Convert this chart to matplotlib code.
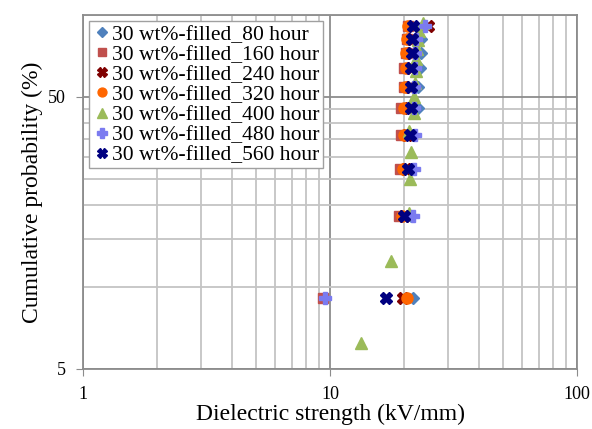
import numpy as np
from matplotlib import pyplot as plt
from matplotlib.ticker import FixedLocator, NullFormatter

plt.rcParams['font.family'] = ['Liberation Serif', 'DejaVu Serif']

# cumulative probability (%) - 10 samples: i/11, 400 hour set: 15 samples, i/16
prob10 = [100.0 * i / 11 for i in range(1, 11)]
prob15 = [100.0 * i / 16 for i in range(1, 16)]

h80 = [21.7, 21.2, 21.5, 21.7, 22.7, 22.7, 23.1, 23.3, 23.3, 23.8]
h160 = [9.4, 19.0, 19.1, 19.4, 19.4, 19.9, 20.0, 20.2, 20.4, 20.6]
h240 = [19.8, 19.9, 20.3, 20.5, 20.8, 21.0, 21.2, 21.3, 21.4, 24.8]
h320 = [20.4, 19.6, 19.8, 19.9, 20.0, 20.1, 20.2, 20.3, 20.4, 20.6]
h400 = [13.3, 17.6, 20.9, 21.0, 21.3, 20.9, 21.8, 21.9, 22.0, 22.2,
        22.2, 22.4, 22.6, 22.9, 23.7]
h480 = [9.5, 21.7, 21.9, 22.0, 21.8, 21.9, 22.0, 22.1, 22.2, 24.2]
h560 = [16.9, 19.9, 20.7, 21.0, 21.2, 21.3, 21.3, 21.5, 21.5, 21.7]

labels = ['30 wt%-filled_80 hour', '30 wt%-filled_160 hour',
          '30 wt%-filled_240 hour', '30 wt%-filled_320 hour',
          '30 wt%-filled_400 hour', '30 wt%-filled_480 hour',
          '30 wt%-filled_560 hour']

fig = plt.figure(figsize=(5.92, 4.29), dpi=100)
ax = fig.add_axes([0.140, 0.140, 0.835, 0.825])

ax.plot(h80, prob10, ls='none', marker='D', ms=6.5, color='#4F81BD', label=labels[0])
ax.plot(h160, prob10, ls='none', marker='s', ms=7.5, color='#C0504D', label=labels[1])
ax.plot(h240, prob10, ls='none', marker='X', ms=8.5, color='#7F0000', label=labels[2])
ax.plot(h320, prob10, ls='none', marker='o', ms=8, color='#FF6600', label=labels[3])
ax.plot(h400, prob15, ls='none', marker='^', ms=8.5, color='#9BBB59', label=labels[4])
ax.plot(h480, prob10, ls='none', marker='P', ms=8.5, color='#7B7BF0', label=labels[5])
ax.plot(h560, prob10, ls='none', marker='X', ms=8.5, color='#000080', label=labels[6])

ax.set_xscale('log')
ax.set_yscale('log')
ax.set_xlim(1, 100)
ax.set_ylim(5, 100)

ax.xaxis.set_major_locator(FixedLocator([1, 10, 100]))
ax.set_xticklabels(['1', '10', '100'])
ax.xaxis.set_minor_locator(FixedLocator([2, 3, 4, 5, 6, 7, 8, 9, 20, 30, 40, 50, 60, 70, 80, 90]))
ax.xaxis.set_minor_formatter(NullFormatter())
ax.yaxis.set_major_locator(FixedLocator([5, 50]))
ax.set_yticklabels(['5', '50'])
ax.yaxis.set_minor_locator(FixedLocator([10, 15, 20, 25, 30, 35, 40, 45, 100]))
ax.yaxis.set_minor_formatter(NullFormatter())

ax.grid(which='major', color='#8c8c8c', lw=1.3)
ax.grid(which='minor', color='#c4c4c4', lw=1.3)
ax.set_axisbelow(True)
ax.tick_params(which='major', direction='out', length=5, color='#8c8c8c',
               labelsize=13, pad=7)
ax.tick_params(which='minor', length=0)
for s in ax.spines.values():
    s.set_color('#8c8c8c')
    s.set_linewidth(1.3)

ax.set_xlabel('Dielectric strength (kV/mm)', fontsize=17, labelpad=1)
ax.set_ylabel('Cumulative probability (%)', fontsize=17, labelpad=4)

leg = ax.legend(loc='upper left', bbox_to_anchor=(0.0, 1.0), fontsize=15.5,
                labelspacing=0.0, handletextpad=0.0, handlelength=0.9,
                borderpad=0.15, borderaxespad=0.3, fancybox=False,
                framealpha=1, edgecolor='#a0a0a0', markerscale=0.8)
leg.get_frame().set_linewidth(1.0)

fig.savefig('out.png', dpi=100)
